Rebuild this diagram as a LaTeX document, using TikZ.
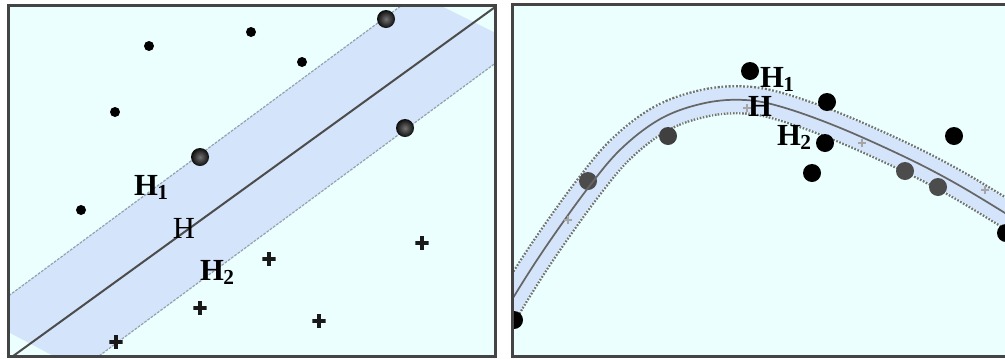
\documentclass[tikz,border=0pt]{standalone}
\usepackage{fontspec}
\setmainfont{Liberation Serif}
\definecolor{bgc}{RGB}{235,255,255}
\definecolor{bandc}{RGB}{212,228,250}
\definecolor{framec}{RGB}{68,68,68}
\definecolor{edgec}{RGB}{150,160,175}
\tikzset{
  frm/.style={draw=framec,line width=2.25pt},
  sdot/.style={circle,fill=black,inner sep=0pt,minimum size=7.5pt},
  bdot/.style={circle,inner sep=0pt,minimum size=13.5pt,inner color=black!55,outer color=black!95,shading=radial},
  rdot/.style={circle,fill=black,inner sep=0pt,minimum size=13.5pt},
  pls/.style={inner sep=0pt,minimum size=10pt,path picture={\draw[line width=2.4pt,black!90] (path picture bounding box.north)--(path picture bounding box.south) (path picture bounding box.west)--(path picture bounding box.east);}},
  fpls/.style={inner sep=0pt,minimum size=6pt,path picture={\draw[line width=1pt,black!35] (path picture bounding box.north)--(path picture bounding box.south) (path picture bounding box.west)--(path picture bounding box.east);}},
  lbl/.style={inner sep=0pt,font=\fontsize{23}{23}\selectfont},
  blbl/.style={inner sep=0pt,font=\fontsize{23}{23}\selectfont\bfseries},
}
\newcommand{\Hsub}[1]{H\kern-0.5pt\raisebox{-3pt}{\fontsize{16}{16}\selectfont #1}}
\begin{document}
\begin{tikzpicture}[x=0.75pt,y=-0.75pt]
\useasboundingbox (0,0) rectangle (1005,358);
\fill[white] (0,0) rectangle (1005,358);
% ---------- left panel ----------
\fill[bgc] (8.5,5.5) rectangle (495.5,356.5);
\begin{scope}
\clip (8.5,5.5) rectangle (495.5,356.5);
\coordinate (u1) at (-20,317);
\coordinate (u2) at (417,-6);
\coordinate (l1) at (80,370);
\coordinate (l2) at (520,45);
\coordinate (c1) at (-20,380);
\coordinate (c2) at (520,-11);
\fill[bandc] (u1) -- (u2) -- (l2) -- (l1) -- cycle;
\draw[edgec,line width=0.9pt,dash pattern=on 2pt off 1pt] (u1) -- (u2);
\draw[edgec,line width=0.9pt,dash pattern=on 2pt off 1pt] (l1) -- (l2);
\draw[black!70,line width=1.5pt] (c1) -- (c2);
\end{scope}
\node[sdot] (a1) at (149,46) {};
\node[sdot] (a2) at (251,32) {};
\node[sdot] (a3) at (302,62) {};
\node[sdot] (a4) at (115,112) {};
\node[sdot] (a5) at (81,210) {};
\node[bdot] (b1) at (386,19) {};
\node[bdot] (b2) at (405,128) {};
\node[bdot] (b3) at (200,157) {};
\node[pls] (p1) at (422,243) {};
\node[pls] (p2) at (269,259) {};
\node[pls] (p3) at (200,308) {};
\node[pls] (p4) at (319,321) {};
\node[pls] (p5) at (116,342) {};
\node[blbl] (lh1) at (151,187) {\Hsub{1}};
\node[lbl] (lh) at (184,228) {H};
\node[blbl] (lh2) at (217,272) {\Hsub{2}};
\draw[frm] (8.5,5.5) rectangle (495.5,356.5);
% ---------- right panel ----------
\fill[bgc] (512.5,4.5) rectangle (1005,356.5);
\begin{scope}
\clip (512.5,4.5) rectangle (1005,356.5);
\def\curv{plot[smooth,tension=0.6] coordinates {(500,322) (513,298) (545,248) (588,188) (622,148) (662,118) (705,103) (745,100) (782,107) (838,127) (905,157) (955,183) (1005,213) (1020,223)}}
\draw[black!55,line width=22pt,dash pattern=on 1.3pt off 1.2pt] \curv;
\draw[bandc,line width=18.5pt] \curv;
\node[rdot,fill=black!75] (r6) at (668,136) {};
\node[rdot,fill=black!70] (r7) at (588,181) {};
\node[rdot,fill=black!70] (r8) at (905,171) {};
\node[rdot,fill=black!70] (r9) at (938,187) {};
\node[rdot] (r10) at (514,320) {};
\node[rdot] (r11) at (1006,233) {};
\draw[black!60,line width=1.3pt] \curv;
\node[fpls] (q1) at (568,220) {};
\node[fpls] (q2) at (862,143) {};
\node[fpls] (q3) at (985,190) {};
\node[fpls] (q4) at (747,108) {};
\end{scope}
\node[rdot] (r1) at (750,71) {};
\node[rdot] (r2) at (827,102) {};
\node[rdot] (r3) at (825,143) {};
\node[rdot] (r4) at (812,173) {};
\node[rdot] (r5) at (954,136) {};
\node[blbl] (rh1) at (777,79) {\Hsub{1}};
\node[blbl] (rh) at (760,106) {H};
\node[blbl] (rh2) at (794,137) {\Hsub{2}};
\draw[frm] (1006,4.5) -- (512.5,4.5) -- (512.5,356.5) -- (1006,356.5);
\end{tikzpicture}
\end{document}
